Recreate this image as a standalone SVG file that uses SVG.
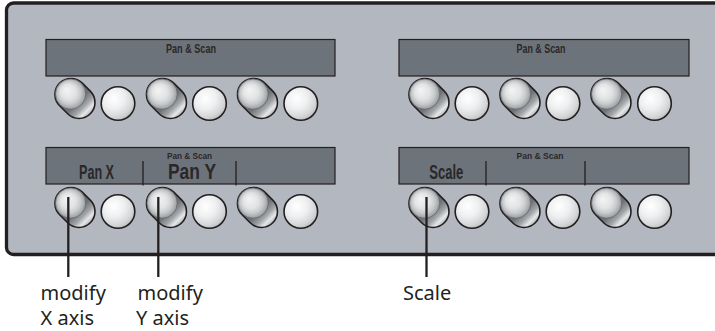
<svg xmlns="http://www.w3.org/2000/svg" width="715" height="331" viewBox="0 0 715 331">
<style>
.disp{fill:#6d737a;stroke:#231f20;stroke-width:1.2}
.t{font-family:"Liberation Sans",Arial,sans-serif;font-weight:bold;fill:#2a2728}
.lbl{font-family:"Noto Sans","Open Sans",sans-serif;font-size:20px;fill:#231f20}
.div{stroke:#231f20;stroke-width:1.3}
.con{stroke:#231f20;stroke-width:2.3;fill:none}
</style>
<defs>
<radialGradient id="face" cx="0.5" cy="0.5" r="0.55" fx="0.36" fy="0.36">
<stop offset="0" stop-color="#f4f4f5"/>
<stop offset="0.45" stop-color="#e2e3e4"/>
<stop offset="0.68" stop-color="#c8cacc"/>
<stop offset="0.84" stop-color="#aaadb0"/>
<stop offset="0.95" stop-color="#909397"/>
<stop offset="1" stop-color="#7e8185"/>
</radialGradient>
<linearGradient id="side" x1="0" y1="0" x2="1" y2="0">
<stop offset="0" stop-color="#6a6d71"/>
<stop offset="0.6" stop-color="#6e7175"/>
<stop offset="0.78" stop-color="#a4a7aa"/>
<stop offset="0.9" stop-color="#e6e7e8"/>
<stop offset="1" stop-color="#b2b4b7"/>
</linearGradient>
<radialGradient id="btn" cx="0.38" cy="0.35" r="0.7">
<stop offset="0" stop-color="#ffffff"/>
<stop offset="0.45" stop-color="#eeeff0"/>
<stop offset="0.8" stop-color="#d3d5d7"/>
<stop offset="1" stop-color="#b8babd"/>
</radialGradient>
<g id="knob">
<rect x="-21.7" y="-16" width="43.3" height="32" rx="16" transform="rotate(45)" fill="url(#side)" stroke="#231f20" stroke-width="1.6"/>
<circle cx="-4.4" cy="-4.4" r="15.2" fill="url(#face)" stroke="#5f6266" stroke-width="0.7"/>
</g>
<circle id="button" r="16.8" fill="url(#btn)" stroke="#231f20" stroke-width="1.6"/>
</defs>

<g id="panel">
<rect x="6.5" y="3" width="730" height="251.5" rx="7" fill="#b3b7bf" stroke="#231f20" stroke-width="3.3"/>
</g>

<g id="display-top-left">
<rect class="disp" x="46" y="39.5" width="289" height="36.5"/>
<text class="t" x="191" y="53" font-size="12" text-anchor="middle" textLength="50" lengthAdjust="spacingAndGlyphs">Pan &amp; Scan</text>
</g>
<g id="display-top-right">
<rect class="disp" x="399" y="39.5" width="290" height="36.5"/>
<text class="t" x="541" y="53" font-size="12" text-anchor="middle" textLength="49" lengthAdjust="spacingAndGlyphs">Pan &amp; Scan</text>
</g>
<g id="display-bottom-left">
<rect class="disp" x="46" y="147.5" width="289" height="36.5"/>
<text class="t" x="189.5" y="159" font-size="9" text-anchor="middle" textLength="45" lengthAdjust="spacingAndGlyphs">Pan &amp; Scan</text>
<text class="t" x="96.5" y="179.3" font-size="21" text-anchor="middle" textLength="35" lengthAdjust="spacingAndGlyphs">Pan X</text>
<text class="t" x="192" y="179.3" font-size="21.5" text-anchor="middle" textLength="48" lengthAdjust="spacingAndGlyphs">Pan Y</text>
<line class="div" x1="143" y1="161" x2="143" y2="185.5"/>
<line class="div" x1="236" y1="161" x2="236" y2="185.5"/>
</g>
<g id="display-bottom-right">
<rect class="disp" x="399" y="147.5" width="290" height="36.5"/>
<text class="t" x="540" y="159" font-size="9" text-anchor="middle" textLength="47" lengthAdjust="spacingAndGlyphs">Pan &amp; Scan</text>
<text class="t" x="446.3" y="179.3" font-size="21" text-anchor="middle" textLength="34" lengthAdjust="spacingAndGlyphs">Scale</text>
<line class="div" x1="486" y1="161" x2="486" y2="185.5"/>
<line class="div" x1="585" y1="161" x2="585" y2="185.5"/>
</g>

<g id="controls-top-left">
<use href="#knob" x="75" y="98.5"/><use href="#button" x="118" y="103.5"/>
<use href="#knob" x="166.5" y="98.5"/><use href="#button" x="209.5" y="103.5"/>
<use href="#knob" x="257.5" y="98.5"/><use href="#button" x="300.8" y="103.5"/>
</g>
<g id="controls-top-right">
<use href="#knob" x="429" y="98.5"/><use href="#button" x="472" y="103.5"/>
<use href="#knob" x="520" y="98.5"/><use href="#button" x="563" y="103.5"/>
<use href="#knob" x="611" y="98.5"/><use href="#button" x="654.5" y="103.5"/>
</g>
<g id="controls-bottom-left">
<use href="#knob" x="75" y="207.5"/><use href="#button" x="118" y="211.5"/>
<use href="#knob" x="166.5" y="207.5"/><use href="#button" x="209.5" y="211.5"/>
<use href="#knob" x="257.5" y="207.5"/><use href="#button" x="300.8" y="211.5"/>
</g>
<g id="controls-bottom-right">
<use href="#knob" x="429" y="207.5"/><use href="#button" x="472" y="211.5"/>
<use href="#knob" x="520" y="207.5"/><use href="#button" x="563" y="211.5"/>
<use href="#knob" x="611" y="207.5"/><use href="#button" x="654.5" y="211.5"/>
</g>

<g id="connectors">
<line class="con" x1="68.3" y1="197" x2="68.3" y2="277"/>
<line class="con" x1="158.3" y1="197" x2="158.3" y2="277"/>
<line class="con" x1="426.5" y1="197" x2="426.5" y2="277"/>
</g>

<g id="label-x">
<text class="lbl" x="40.5" y="300">modify</text>
<text class="lbl" x="40.5" y="324.5">X axis</text>
</g>
<g id="label-y">
<text class="lbl" x="137.5" y="300">modify</text>
<text class="lbl" x="136" y="324.5">Y axis</text>
</g>
<g id="label-scale">
<text class="lbl" x="403" y="300">Scale</text>
</g>
</svg>
